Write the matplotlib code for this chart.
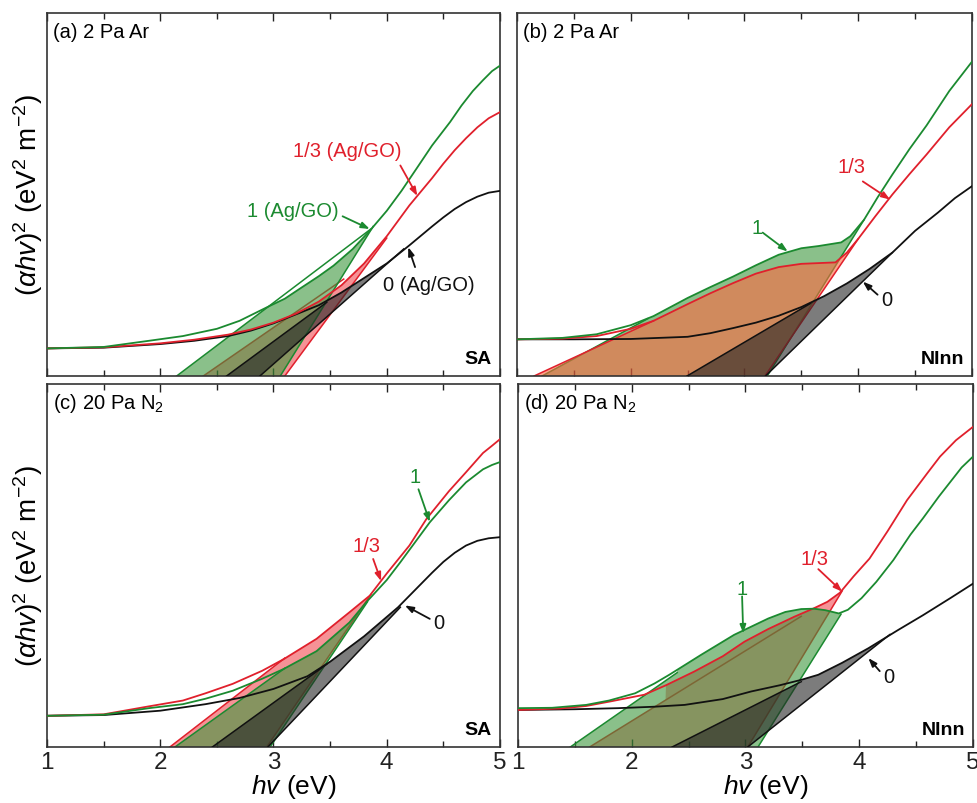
import numpy as np
import matplotlib.pyplot as plt
from matplotlib.ticker import MultipleLocator

plt.rcParams.update({
    "font.family": "Liberation Sans",
    "mathtext.fontset": "custom",
    "mathtext.rm": "Liberation Sans",
    "mathtext.it": "Liberation Sans:italic",
    "mathtext.bf": "Liberation Sans:bold",
})

GREEN, RED, BLACK = "#1b8a30", "#e0202c", "#111111"
GREEN_FILL, GRAY_FILL = "#3c963c", "#252525"
PINK_FILL, ORANGE_FILL = "#f04a50", "#ff663f"

# ---------------------------------------------------------------------------
# Tauc curves (y in relative units, 0 = bottom of frame, 1 = top)
# tail = shallow line: [hv at baseline, hv at end, y at end, hv where fill joins curve]
# edge = steep line:   [hv at baseline, hv at end, y at end]
# ---------------------------------------------------------------------------
# (a) 2 Pa Ar, SA
a_hv_0 = [1.0, 1.5, 2.0, 2.3, 2.6, 2.8, 3.0, 3.2, 3.4, 3.6, 3.8, 4.0, 4.2, 4.4, 4.5, 4.6, 4.7, 4.8, 4.9, 5.0]
a_y_0 = [0.076, 0.078, 0.088, 0.097, 0.11, 0.125, 0.145, 0.17, 0.195, 0.23, 0.27, 0.31, 0.36, 0.412,
         0.437, 0.46, 0.479, 0.494, 0.505, 0.51]
a_hv_13 = [1.0, 1.5, 2.0, 2.3, 2.6, 2.8, 3.0, 3.2, 3.4, 3.6, 3.8, 4.0, 4.2, 4.4, 4.5, 4.6, 4.7, 4.8, 4.9, 5.0]
a_y_13 = [0.076, 0.079, 0.09, 0.1, 0.114, 0.128, 0.147, 0.172, 0.205, 0.25, 0.31, 0.385, 0.47, 0.545,
          0.585, 0.622, 0.655, 0.685, 0.71, 0.727]
a_hv_1 = [1.0, 1.5, 1.9, 2.2, 2.5, 2.7, 2.94, 3.1, 3.23, 3.4, 3.53, 3.7, 3.85, 4.0, 4.13, 4.26, 4.4,
          4.56, 4.66, 4.76, 4.85, 4.93, 5.0]
a_y_1 = [0.076, 0.08, 0.097, 0.11, 0.13, 0.152, 0.189, 0.213, 0.24, 0.275, 0.304, 0.35, 0.40, 0.455,
         0.51, 0.57, 0.635, 0.70, 0.745, 0.785, 0.815, 0.84, 0.855]
a_tail_0, a_edge_0 = [2.586, 3.47, 0.203, 3.47], [2.88, 4.15, 0.35]
a_tail_13, a_edge_13 = [2.38, 3.62, 0.267, 3.62], [3.10, 4.0, 0.38]
a_tail_1, a_edge_1 = [2.145, 3.86, 0.405, 3.86], [3.06, 3.88, 0.412]

# (b) 2 Pa Ar, NInn
b_hv_0 = [1.0, 1.5, 2.0, 2.5, 2.7, 2.9, 3.1, 3.3, 3.5, 3.7, 3.9, 4.1, 4.3, 4.5, 4.7, 4.85, 5.0]
b_y_0 = [0.101, 0.101, 0.102, 0.108, 0.118, 0.132, 0.147, 0.166, 0.19, 0.22, 0.255, 0.295, 0.34, 0.4,
         0.45, 0.49, 0.523]
b_hv_13 = [1.0, 1.4, 1.7, 2.0, 2.2, 2.5, 2.7, 2.9, 3.1, 3.3, 3.5, 3.65, 3.8, 3.9, 4.0, 4.15, 4.3,
           4.45, 4.6, 4.8, 5.0]
b_y_13 = [0.101, 0.103, 0.11, 0.13, 0.152, 0.198, 0.228, 0.256, 0.282, 0.30, 0.309, 0.311, 0.313,
          0.34, 0.378, 0.44, 0.50, 0.556, 0.61, 0.685, 0.749]
b_hv_1 = [1.0, 1.4, 1.7, 2.0, 2.2, 2.5, 2.7, 2.9, 3.1, 3.3, 3.5, 3.65, 3.85, 3.93, 4.05, 4.17, 4.3,
          4.45, 4.6, 4.8, 5.0]
b_y_1 = [0.101, 0.105, 0.115, 0.14, 0.165, 0.215, 0.245, 0.274, 0.305, 0.334, 0.352, 0.358, 0.368,
         0.385, 0.43, 0.492, 0.555, 0.625, 0.69, 0.785, 0.866]
b_tail_0, b_edge_0 = [2.495, 3.58, 0.20, 3.58], [3.185, 4.3, 0.34]
b_tail_13, b_edge_13 = [1.15, 2.2, 0.152, 2.2], [3.18, 4.0, 0.378]
b_tail_1, b_edge_1 = [1.22, 2.15, 0.158, 2.15], [3.2, 4.05, 0.43]

# (c) 20 Pa N2, SA
c_hv_0 = [1.0, 1.5, 2.0, 2.4, 2.7, 3.0, 3.3, 3.5, 3.8, 4.1, 4.4, 4.5, 4.6, 4.7, 4.8, 4.9, 5.0]
c_y_0 = [0.086, 0.088, 0.1, 0.118, 0.135, 0.16, 0.195, 0.235, 0.305, 0.385, 0.48, 0.51, 0.535,
         0.555, 0.568, 0.575, 0.578]
c_hv_13 = [1.0, 1.5, 1.9, 2.2, 2.4, 2.64, 2.9, 3.09, 3.38, 3.67, 3.85, 4.0, 4.2, 4.35, 4.55, 4.7,
           4.85, 4.93, 5.0]
c_y_13 = [0.086, 0.09, 0.112, 0.128, 0.148, 0.174, 0.21, 0.242, 0.298, 0.371, 0.417, 0.478, 0.555,
          0.628, 0.705, 0.757, 0.81, 0.83, 0.848]
c_hv_1 = [1.0, 1.5, 1.9, 2.2, 2.4, 2.64, 2.9, 3.09, 3.38, 3.67, 3.82, 4.0, 4.12, 4.38, 4.55, 4.7,
          4.85, 4.93, 5.0]
c_y_1 = [0.086, 0.089, 0.107, 0.118, 0.133, 0.155, 0.188, 0.215, 0.264, 0.343, 0.399, 0.46, 0.509,
         0.619, 0.68, 0.729, 0.765, 0.777, 0.785]
c_tail_0, c_edge_0 = [2.46, 3.47, 0.228, 3.47], [2.95, 4.12, 0.385]
c_tail_13, c_edge_13 = [2.085, 3.1, 0.245, 3.1], [2.94, 3.86, 0.42]
c_tail_1, c_edge_1 = [2.13, 3.1, 0.217, 3.1], [2.97, 3.83, 0.40]

# (d) 20 Pa N2, NInn
d_hv_0 = [1.0, 1.5, 1.88, 2.2, 2.465, 2.8, 3.05, 3.3, 3.49, 3.64, 3.85, 4.08, 4.34, 4.56, 4.8, 5.0]
d_y_0 = [0.102, 0.104, 0.107, 0.111, 0.116, 0.132, 0.153, 0.17, 0.185, 0.199, 0.232, 0.272, 0.322,
         0.363, 0.41, 0.45]
d_hv_13 = [1.0, 1.37, 1.6, 1.82, 2.11, 2.3, 2.55, 2.8, 2.99, 3.2, 3.43, 3.6, 3.72, 3.83, 3.95, 4.09,
           4.25, 4.42, 4.6, 4.71, 4.85, 5.0]
d_y_13 = [0.102, 0.106, 0.113, 0.126, 0.144, 0.17, 0.208, 0.25, 0.29, 0.325, 0.359, 0.382, 0.40,
          0.425, 0.47, 0.519, 0.595, 0.68, 0.755, 0.80, 0.845, 0.882]
d_hv_1 = [1.0, 1.3, 1.6, 1.8, 2.03, 2.2, 2.33, 2.61, 2.9, 3.2, 3.35, 3.49, 3.6, 3.7, 3.82, 3.9, 4.02,
          4.15, 4.3, 4.45, 4.56, 4.7, 4.8, 4.9, 5.0]
d_y_1 = [0.107, 0.108, 0.116, 0.128, 0.148, 0.175, 0.199, 0.254, 0.309, 0.354, 0.372, 0.38, 0.381,
         0.377, 0.368, 0.378, 0.41, 0.455, 0.515, 0.585, 0.63, 0.69, 0.73, 0.77, 0.80]
d_tail_0, d_edge_0 = [2.355, 3.49, 0.18, 3.49], [3.02, 4.27, 0.31]
d_tail_13, d_edge_13 = [1.63, 3.49, 0.36, 2.3], [3.02, 3.85, 0.43]
d_tail_1, d_edge_1 = [1.46, 2.4, 0.205, 2.4], [3.11, 3.84, 0.366]


def shade(ax, hv, y, tail, edge, fill, alpha, line, z):
    xa, xs, ys, join = tail
    xb, xt, yt = edge
    x = np.linspace(xa, xt, 600)
    curve = np.interp(x, hv, y)
    shallow = ys * (x - xa) / (xs - xa)
    steep = yt * (x - xb) / (xt - xb)
    upper = np.where(x < join, np.minimum(shallow, curve), curve)
    lower = np.maximum(0, steep)
    ax.fill_between(x, lower, upper, where=upper >= lower, interpolate=True,
                    facecolor=fill, alpha=alpha, edgecolor="none", zorder=z)
    ax.plot([xa, xs], [0, ys], color=line, lw=1.1, zorder=z + 0.5)
    ax.plot([xb, xt], [0, yt], color=line, lw=1.1, zorder=z + 0.5)


panels = [
    dict(tag="(a) 2 Pa Ar", kind="SA", top_red=False, red_fill=PINK_FILL,
         curves={"0": (a_hv_0, a_y_0, a_tail_0, a_edge_0), "13": (a_hv_13, a_y_13, a_tail_13, a_edge_13),
                 "1": (a_hv_1, a_y_1, a_tail_1, a_edge_1)}),
    dict(tag="(b) 2 Pa Ar", kind="NInn", top_red=True, red_fill=ORANGE_FILL,
         curves={"0": (b_hv_0, b_y_0, b_tail_0, b_edge_0), "13": (b_hv_13, b_y_13, b_tail_13, b_edge_13),
                 "1": (b_hv_1, b_y_1, b_tail_1, b_edge_1)}),
    dict(tag="(c) 20 Pa N$_2$", kind="SA", top_red=False, red_fill=PINK_FILL,
         curves={"0": (c_hv_0, c_y_0, c_tail_0, c_edge_0), "13": (c_hv_13, c_y_13, c_tail_13, c_edge_13),
                 "1": (c_hv_1, c_y_1, c_tail_1, c_edge_1)}),
    dict(tag="(d) 20 Pa N$_2$", kind="NInn", top_red=False, red_fill=PINK_FILL,
         curves={"0": (d_hv_0, d_y_0, d_tail_0, d_edge_0), "13": (d_hv_13, d_y_13, d_tail_13, d_edge_13),
                 "1": (d_hv_1, d_y_1, d_tail_1, d_edge_1)}),
]

# arrow annotations: text, colour, text pos, arrow start, arrow tip (data coords)
notes = [
    [("1/3 (Ag/GO)", RED, (3.17, 0.62), (4.12, 0.58), (4.27, 0.496)),
     ("1 (Ag/GO)", GREEN, (2.77, 0.455), (3.61, 0.44), (3.85, 0.405)),
     ("0 (Ag/GO)", BLACK, (3.97, 0.253), (4.25, 0.30), (4.19, 0.355))],
    [("1/3", RED, (3.82, 0.577), (4.04, 0.536), (4.28, 0.486)),
     ("1", GREEN, (3.06, 0.41), (3.16, 0.395), (3.38, 0.343)),
     ("0", BLACK, (4.20, 0.21), (4.17, 0.224), (4.04, 0.26))],
    [("1/3", RED, (3.70, 0.554), (3.88, 0.518), (3.95, 0.457)),
     ("1", GREEN, (4.20, 0.744), (4.28, 0.71), (4.38, 0.62)),
     ("0", BLACK, (4.41, 0.344), (4.38, 0.353), (4.16, 0.39))],
    [("1/3", RED, (3.48, 0.52), (3.64, 0.49), (3.85, 0.428)),
     ("1", GREEN, (2.92, 0.437), (2.97, 0.415), (2.98, 0.313)),
     ("0", BLACK, (4.21, 0.195), (4.18, 0.209), (4.08, 0.245))],
]

fig = plt.figure(figsize=(9.78, 8.04), dpi=100)
boxes = [
    [47 / 978, 1 - 377 / 804, 453 / 978, 363 / 804],
    [517 / 978, 1 - 377 / 804, 455 / 978, 363 / 804],
    [47 / 978, 1 - 748 / 804, 453 / 978, 363 / 804],
    [518 / 978, 1 - 748 / 804, 455 / 978, 363 / 804],
]

for i, (p, box) in enumerate(zip(panels, boxes)):
    ax = fig.add_axes(box)
    c = p["curves"]
    green_layer = ("1", GREEN_FILL, 0.6, GREEN)
    red_layer = ("13", p["red_fill"], 0.6, RED)
    order = [green_layer, red_layer] if p["top_red"] else [red_layer, green_layer]
    order.append(("0", GRAY_FILL, 0.6, BLACK))
    for z, (key, fill, alpha, line) in enumerate(order):
        hv, y, tail, edge = c[key]
        shade(ax, hv, y, tail, edge, fill, alpha, line, 1 + z)

    for key, col in [("0", BLACK), ("13", RED), ("1", GREEN)]:
        hv, y = c[key][0], c[key][1]
        ax.plot(hv, y, color=col, lw=1.3, zorder=6)

    for txt, col, tpos, start, tip in notes[i]:
        ax.text(tpos[0], tpos[1], txt, color=col, fontsize=14.5, ha="left", va="center", zorder=8)
        ax.annotate("", xy=tip, xytext=start,
                    arrowprops=dict(arrowstyle="-|>,head_length=0.5,head_width=0.18", color=col, lw=1.3,
                                    shrinkA=0, shrinkB=0), zorder=8)

    ax.text(0.013, 0.948, p["tag"], transform=ax.transAxes, fontsize=14.5, ha="left", va="center")
    ax.text(0.982, 0.047, p["kind"], transform=ax.transAxes, fontsize=14, fontweight="bold",
            ha="right", va="center")

    ax.set_xlim(1, 5)
    ax.set_ylim(0, 1)
    ax.set_yticks([])
    ax.xaxis.set_major_locator(MultipleLocator(1))
    ax.xaxis.set_minor_locator(MultipleLocator(0.5))
    ax.tick_params(axis="x", which="both", direction="in", top=True, bottom=True, width=1.0,
                   colors="#222222", labelsize=17.5, pad=3)
    ax.tick_params(axis="x", which="major", length=6)
    ax.tick_params(axis="x", which="minor", length=4)
    for s in ax.spines.values():
        s.set_linewidth(1.2)
        s.set_color("#333333")

    if i < 2:
        ax.tick_params(axis="x", labelbottom=False)
    else:
        ax.text(0.545, -0.108, "$hv$ (eV)", transform=ax.transAxes, fontsize=19, ha="center",
                va="center")
    if i % 2 == 0:
        ax.text(-0.042, 0.5, r"$(\alpha hv)^2$ (eV$^2$ m$^{-2}$)", transform=ax.transAxes,
                rotation=90, fontsize=20, ha="center", va="center")

fig.savefig("out.png", dpi=100)
